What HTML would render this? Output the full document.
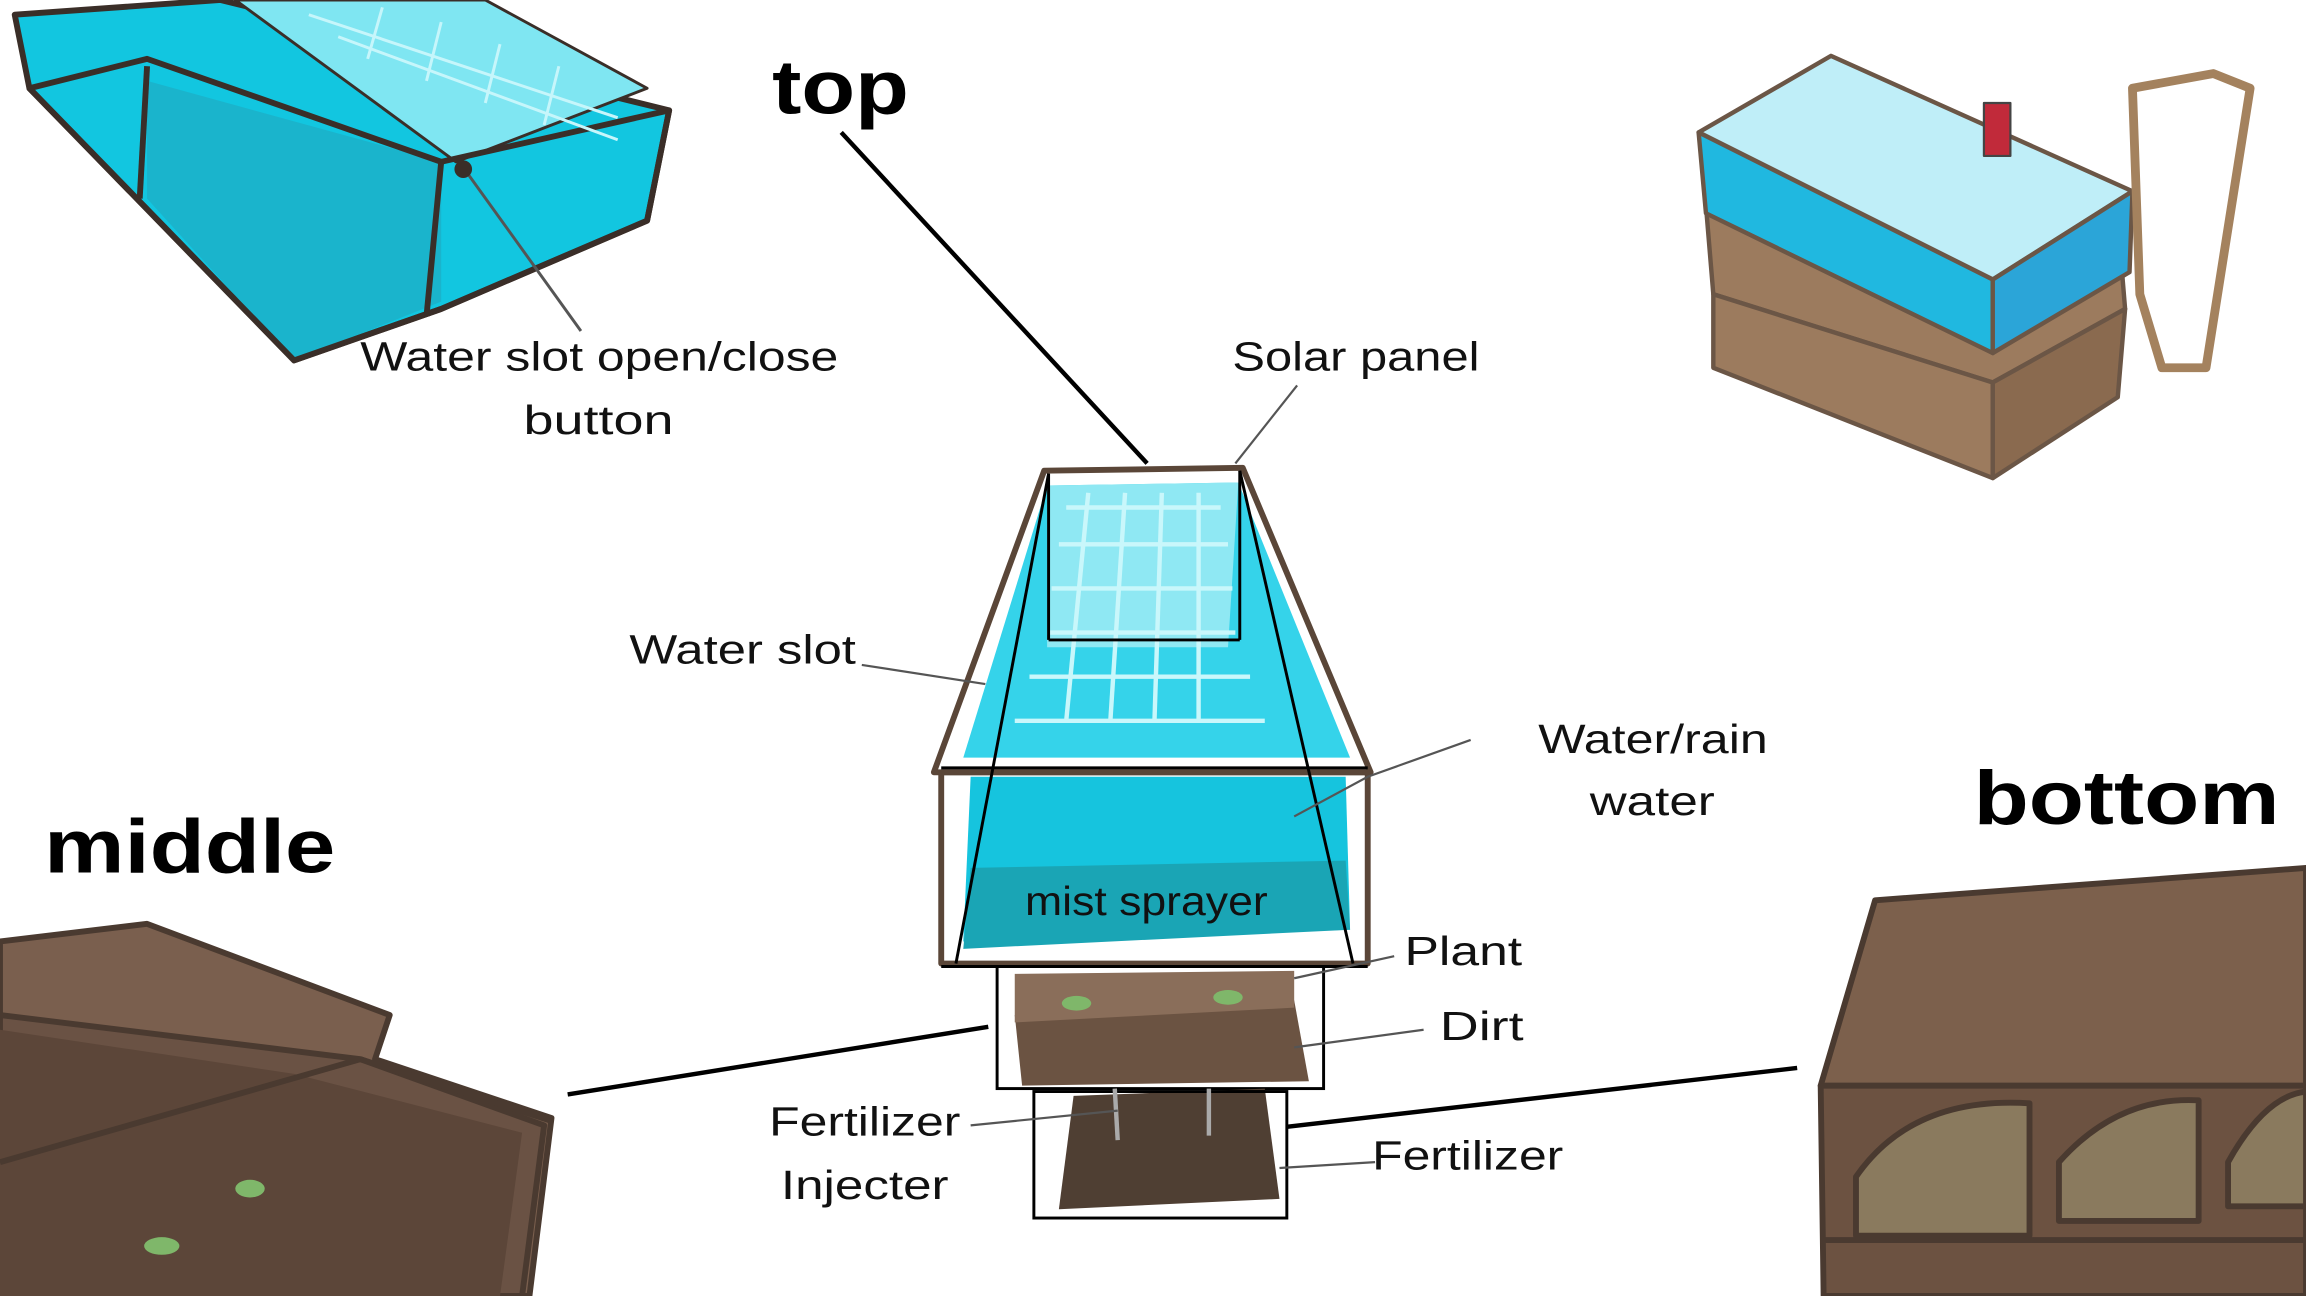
<!DOCTYPE html>
<html><head><meta charset="utf-8"><style>
html,body{margin:0;padding:0;background:#fff;}
svg{display:block;}
text{font-family:"Liberation Sans",sans-serif;}
</style></head><body>
<svg width="2306" height="1296" viewBox="0 0 1568 881" preserveAspectRatio="none" xmlns="http://www.w3.org/2000/svg">
<rect width="1568" height="881" fill="#fff"/>

<g stroke="#3a2e28" stroke-width="4" stroke-linejoin="round">
<polygon points="10,10 150,0 455,75 440,150 300,210 200,245 20,60" fill="#12c6e0"/>
<polygon points="160,0 330,0 440,60 310,110" fill="#7fe6f2" stroke-width="2"/>
<polygon points="100,55 300,110 300,205 200,245 100,135" fill="#1ab4cc" stroke="none"/>
<polygon points="20,60 200,245 300,210 440,150 455,75 300,110 100,40" fill="none"/>
<line x1="300" y1="110" x2="290" y2="215"/>
<line x1="100" y1="45" x2="95" y2="135"/>
</g>
<g stroke="#c6f6fb" stroke-width="2" fill="none">
<line x1="210" y1="10" x2="420" y2="80"/><line x1="230" y1="25" x2="420" y2="95"/>
<line x1="260" y1="5" x2="250" y2="40"/><line x1="300" y1="15" x2="290" y2="55"/><line x1="340" y1="30" x2="330" y2="70"/><line x1="380" y1="45" x2="370" y2="85"/>
</g>
<line x1="318" y1="118" x2="395" y2="225" stroke="#555" stroke-width="2"/>
<circle cx="315" cy="115" r="6" fill="#3a2e28"/>

<g stroke="#6b5646" stroke-width="3" stroke-linejoin="round">
<polygon points="1160,140 1165,200 1355,260 1445,210 1440,150" fill="#9c7b5e"/>
<polygon points="1165,200 1355,260 1355,325 1165,250" fill="#9c7b5e"/>
<polygon points="1355,260 1445,210 1440,270 1355,325" fill="#8a6a4f"/>
<polygon points="1155,90 1245,38 1450,130 1355,190" fill="#bfeef8"/>
<polygon points="1155,90 1355,190 1355,240 1160,145" fill="#20b8e0"/>
<polygon points="1355,190 1450,130 1448,185 1355,240" fill="#2ba5d8"/>
<polygon points="1450,60 1505,50 1530,60 1500,250 1470,250 1455,200" fill="none" stroke="#a4825e" stroke-width="6"/>
<rect x="1349" y="70" width="18" height="36" fill="#c12a3a" stroke="#444" stroke-width="1.5"/>
</g>

<g stroke="#4a3a30" stroke-width="4" stroke-linejoin="round">
<polygon points="0,640 100,628 265,690 255,720 375,760 360,881 0,881" fill="#7a5f4e"/>
<polygon points="0,690 245,720 370,765 355,881 0,881" fill="#6a5244"/>
<polygon points="0,700 200,730 355,770 340,881 0,881" fill="#5c4639" stroke="none"/>
<line x1="0" y1="790" x2="245" y2="720"/>
<line x1="245" y1="720" x2="375" y2="762"/>
</g>
<g fill="#7fb76a"><ellipse cx="110" cy="847" rx="12" ry="6"/><ellipse cx="170" cy="808" rx="10" ry="6"/></g>

<g stroke="#4a3a30" stroke-width="4" stroke-linejoin="round">
<polygon points="1275,612 1568,590 1568,738 1238,738" fill="#7c604c"/>
<polygon points="1238,738 1568,738 1568,881 1240,881" fill="#6c5241"/>
<path d="M1262,800 Q1300,745 1380,750 L1380,840 L1262,840 Z" fill="#8a7a5e"/>
<path d="M1400,790 Q1440,745 1495,748 L1495,830 L1400,830 Z" fill="#8a7a5e"/>
<path d="M1515,790 Q1540,745 1568,742 L1568,820 L1515,820 Z" fill="#8a7a5e"/>
<line x1="1240" y1="843" x2="1568" y2="843"/>
</g>

<polygon points="712,330 842,328 918,515 655,515" fill="#35d3ea"/>
<polygon points="712,330 842,328 835,440 712,440" fill="#8fe8f3"/>
<g stroke="#c9f7fb" stroke-width="3">
<line x1="725" y1="345" x2="830" y2="345"/><line x1="720" y1="370" x2="835" y2="370"/><line x1="715" y1="400" x2="838" y2="400"/><line x1="712" y1="430" x2="840" y2="430"/><line x1="700" y1="460" x2="850" y2="460"/><line x1="690" y1="490" x2="860" y2="490"/>
<line x1="740" y1="335" x2="725" y2="490"/><line x1="765" y1="335" x2="755" y2="490"/><line x1="790" y1="335" x2="785" y2="490"/><line x1="815" y1="335" x2="815" y2="490"/>
</g>
<polygon points="660,528 915,528 918,632 655,640" fill="#16c4de"/>
<polygon points="660,590 915,585 918,632 655,645" fill="#1aa5b5"/>
<g fill="none" stroke="#5a4638" stroke-width="4" stroke-linejoin="round">
<polygon points="710,320 845,318 932,525 635,525"/>
<rect x="640" y="525" width="290" height="130"/>
</g>
<g fill="none" stroke="#000" stroke-width="2">
<line x1="713" y1="322" x2="650" y2="655"/><line x1="843" y1="320" x2="920" y2="655"/>
<line x1="713" y1="322" x2="713" y2="435"/><line x1="843" y1="320" x2="843" y2="435"/>
<line x1="713" y1="435" x2="843" y2="435"/>
<line x1="640" y1="522" x2="930" y2="522"/>
<line x1="640" y1="657" x2="930" y2="657"/>
</g>
<polygon points="690,690 880,680 890,735 695,738" fill="#6b5342"/>
<polygon points="690,662 880,660 880,685 690,695" fill="#8a6e5a"/>
<g fill="#7fb76a"><ellipse cx="732" cy="682" rx="10" ry="5"/><ellipse cx="835" cy="678" rx="10" ry="5"/></g>
<rect x="678" y="657" width="222" height="83" fill="none" stroke="#000" stroke-width="2"/>
<polygon points="730,745 860,740 870,815 720,822" fill="#4f3f33"/>
<rect x="703" y="742" width="172" height="86" fill="none" stroke="#000" stroke-width="2"/>
<g stroke="#aaa" stroke-width="3"><line x1="758" y1="740" x2="760" y2="775"/><line x1="822" y1="740" x2="822" y2="772"/></g>

<g stroke="#000" stroke-width="3">
<line x1="572" y1="90" x2="780" y2="315"/>
<line x1="386" y1="744" x2="672" y2="698"/>
<line x1="875" y1="766" x2="1222" y2="726"/>
</g>
<g stroke="#555" stroke-width="1.5" fill="none">
<path d="M882,262 L840,315"/>
<path d="M586,452 L670,465"/>
<path d="M1000,503 L930,528 L880,555"/>
<path d="M948,650 L880,665"/>
<path d="M968,700 L880,712"/>
<path d="M660,765 L760,755"/>
<path d="M935,790 L870,794"/>
</g>

<g font-size="28" fill="#111" lengthAdjust="spacingAndGlyphs">
<text x="245" y="252" textLength="325" lengthAdjust="spacingAndGlyphs">Water slot open/close</text>
<text x="356" y="295" textLength="102" lengthAdjust="spacingAndGlyphs">button</text>
<text x="838" y="252" textLength="168" lengthAdjust="spacingAndGlyphs">Solar panel</text>
<text x="428" y="451" textLength="154" lengthAdjust="spacingAndGlyphs">Water slot</text>
<text x="1046" y="512" textLength="156" lengthAdjust="spacingAndGlyphs">Water/rain</text>
<text x="1081" y="554" textLength="85" lengthAdjust="spacingAndGlyphs">water</text>
<text x="697" y="622" textLength="165" lengthAdjust="spacingAndGlyphs">mist sprayer</text>
<text x="955" y="656" textLength="80" lengthAdjust="spacingAndGlyphs">Plant</text>
<text x="979" y="707" textLength="57" lengthAdjust="spacingAndGlyphs">Dirt</text>
<text x="523" y="772" textLength="130" lengthAdjust="spacingAndGlyphs">Fertilizer</text>
<text x="531" y="815" textLength="114" lengthAdjust="spacingAndGlyphs">Injecter</text>
<text x="933" y="795" textLength="130" lengthAdjust="spacingAndGlyphs">Fertilizer</text>
</g>
<g font-size="52" font-weight="bold" fill="#000">
<text x="525" y="77" textLength="93" lengthAdjust="spacingAndGlyphs">top</text>
<text x="30" y="593" textLength="198" lengthAdjust="spacingAndGlyphs">middle</text>
<text x="1342" y="560" textLength="208" lengthAdjust="spacingAndGlyphs">bottom</text>
</g>
</svg>
</body></html>
